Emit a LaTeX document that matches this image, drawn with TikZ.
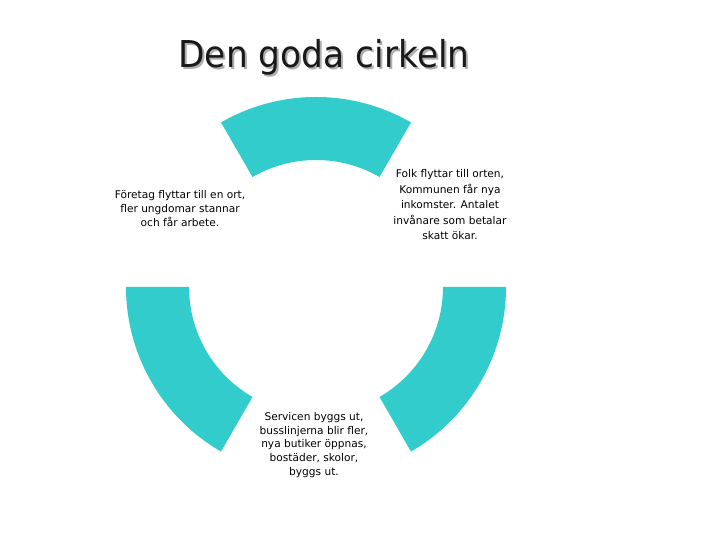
\documentclass[tikz,border=0pt]{standalone}
\usepackage{graphicx}
\usepackage{fontspec}
\setmainfont{DejaVu Sans}
\newfontfamily\titlefont{DejaVu Sans}
\definecolor{ringteal}{RGB}{51,204,204}
\definecolor{shadowgray}{RGB}{175,175,175}
\definecolor{inkblack}{RGB}{25,25,25}
\begin{document}
\begin{tikzpicture}[x=1pt,y=1pt,
  seg/.style={fill=ringteal,draw=none},
  titletext/.style={font=\titlefont\fontsize{37}{40}\selectfont,anchor=base,inner sep=0pt},
  bodytext/.style={font=\fontsize{10.6}{14}\selectfont,align=center,inner sep=0pt,text=black}]
\useasboundingbox[fill=white] (0,0) rectangle (720,540);
\coordinate (c) at (316,253);
% ring segments
\fill[seg] ([shift={(60:190)}]c) arc[start angle=60,end angle=120,radius=190]
  -- ([shift={(120:127)}]c) arc[start angle=120,end angle=60,radius=127] -- cycle;
\fill[seg] ([shift={(180:190)}]c) arc[start angle=180,end angle=240,radius=190]
  -- ([shift={(240:127)}]c) arc[start angle=240,end angle=180,radius=127] -- cycle;
\fill[seg] ([shift={(300:190)}]c) arc[start angle=300,end angle=360,radius=190]
  -- ([shift={(360:127)}]c) arc[start angle=360,end angle=300,radius=127] -- cycle;
% title with shadow
\node[titletext,text=shadowgray] (titleshadow) at (326,470) {\scalebox{0.93}[1]{Den goda cirkeln}};
\node[titletext,text=inkblack] (title) at (324,472) {\scalebox{0.93}[1]{Den goda cirkeln}};
% texts
\node[bodytext] (left) at (180,331) {Företag flyttar till en ort,\\fler ungdomar stannar\\och får arbete.};
\node[bodytext,font=\fontsize{10.6}{15.5}\selectfont] (right) at (450,335) {Folk flyttar till orten,\\Kommunen får nya\\inkomster. Antalet\\invånare som betalar\\skatt ökar.};
\node[bodytext,font=\fontsize{10.6}{13.8}\selectfont] (bottom) at (314,95) {Servicen byggs ut,\\busslinjerna blir fler,\\nya butiker öppnas,\\bostäder, skolor,\\byggs ut.};
\end{tikzpicture}
\end{document}
